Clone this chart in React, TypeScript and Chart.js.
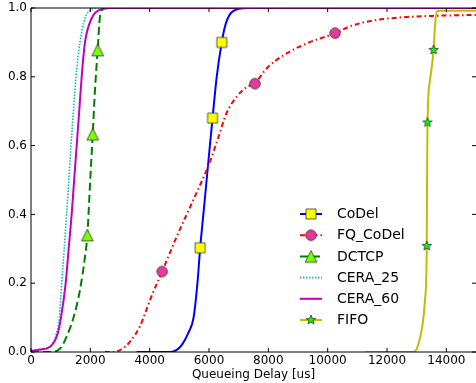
import { useEffect, useRef } from 'react';
import { Chart, registerables } from 'chart.js';

Chart.register(...registerables);

// ---------- data ----------
const seriesNames = ['CoDel', 'FQ_CoDel', 'DCTCP', 'CERA_25', 'CERA_60', 'FIFO'];
const xTicks = [0, 2000, 4000, 6000, 8000, 10000, 12000, 14000];
const yTicks = [0, 0.2, 0.4, 0.6, 0.8, 1.0];
const xTitle = 'Queueing Delay [us]';

const codelX = [3560, 4700, 4910, 5080, 5300, 5480, 5610, 5700, 5810, 5920, 6030, 6120, 6260, 6430, 6550, 6800, 7300, 15000];
const codelY = [0, 0, 0.006, 0.02, 0.055, 0.1, 0.2, 0.3, 0.4, 0.5, 0.6, 0.68, 0.8, 0.9, 0.95, 0.99, 1, 1];
const codelMarkX = [5700, 6120, 6430];
const codelMarkY = [0.303, 0.68, 0.9];

const fqX = [2490, 2800, 3050, 3337, 3674, 3900, 4100, 4420, 4910, 5470, 6010, 6300, 6590, 6930, 7270, 7550, 7950, 8500, 9290, 10250, 10700, 11200, 11800, 12500, 13500, 15000];
const fqY = [0, 0, 0.008, 0.03, 0.075, 0.125, 0.17, 0.234, 0.335, 0.442, 0.548, 0.62, 0.694, 0.742, 0.77, 0.782, 0.825, 0.862, 0.897, 0.927, 0.945, 0.958, 0.967, 0.973, 0.977, 0.98];
const fqMarkX = [4420, 7550, 10250];
const fqMarkY = [0.234, 0.78, 0.927];

const dctcpX = [0, 700, 900, 1035, 1200, 1427, 1650, 1820, 1900, 1990, 2080, 2157, 2247, 2325, 2440, 2600, 15000];
const dctcpY = [0, 0, 0.005, 0.016, 0.045, 0.098, 0.18, 0.277, 0.34, 0.49, 0.633, 0.762, 0.878, 0.975, 0.997, 1, 1];
const dctcpMarkX = [1900, 2080, 2247];
const dctcpMarkY = [0.34, 0.633, 0.878];

const cera25X = [0, 300, 600, 697, 843, 955, 1035, 1120, 1200, 1275, 1348, 1430, 1517, 1650, 1820, 1950, 2260, 15000];
const cera25Y = [0.003, 0.006, 0.012, 0.02, 0.05, 0.1, 0.2, 0.3, 0.4, 0.5, 0.6, 0.7, 0.8, 0.9, 0.97, 0.99, 1, 1];

const cera60X = [0, 300, 640, 887, 1011, 1169, 1270, 1371, 1455, 1540, 1625, 1708, 1820, 2045, 2325, 2660, 15000];
const cera60Y = [0.003, 0.007, 0.015, 0.05, 0.1, 0.2, 0.3, 0.4, 0.5, 0.6, 0.7, 0.8, 0.9, 0.97, 0.995, 1, 1];

const fifoX = [11260, 12900, 13050, 13200, 13280, 13340, 13350, 13365, 13450, 13570, 13620, 13680, 13800, 15000];
const fifoY = [0, 0, 0.02, 0.08, 0.151, 0.308, 0.5, 0.667, 0.79, 0.878, 0.95, 0.99, 0.992, 0.992];
const fifoMarkX = [13340, 13365, 13570];
const fifoMarkY = [0.308, 0.667, 0.878];

// ---------- styles ----------
const FONT = "'DejaVu Sans', 'Liberation Sans', sans-serif";

type MarkerKind = 'square' | 'circle' | 'triangle' | 'star' | 'none';

function makeMarker(kind: MarkerKind): HTMLCanvasElement | null {
  if (kind === 'none') return null;
  const c = document.createElement('canvas');
  c.width = 18;
  c.height = 18;
  const g = c.getContext('2d')!;
  g.translate(9, 9);
  g.lineWidth = 0.8;
  g.strokeStyle = '#333333';
  g.beginPath();
  if (kind === 'square') {
    g.fillStyle = '#ffff00';
    g.rect(-5, -5, 10, 10);
  } else if (kind === 'circle') {
    g.fillStyle = '#e6399b';
    g.arc(0, 0, 5.3, 0, Math.PI * 2);
  } else if (kind === 'triangle') {
    g.fillStyle = '#7cfc00';
    g.moveTo(0, -5.9);
    g.lineTo(-5.9, 5.9);
    g.lineTo(5.9, 5.9);
    g.closePath();
  } else if (kind === 'star') {
    g.fillStyle = '#00ff00';
    const R = 5;
    const r = R * 0.42;
    for (let i = 0; i < 10; i++) {
      const rad = i % 2 === 0 ? R : r;
      const ang = -Math.PI / 2 + (i * Math.PI) / 5;
      const px = Math.cos(ang) * rad;
      const py = Math.sin(ang) * rad;
      if (i === 0) g.moveTo(px, py);
      else g.lineTo(px, py);
    }
    g.closePath();
  }
  g.fill();
  g.stroke();
  return c;
}

interface SeriesStyle {
  color: string;
  width: number;
  dash: number[];
  marker: MarkerKind;
}

const styles: SeriesStyle[] = [
  { color: '#0000ff', width: 2, dash: [], marker: 'square' },
  { color: '#ff0000', width: 2, dash: [5, 3, 1.5, 3], marker: 'circle' },
  { color: '#008000', width: 2, dash: [8, 4], marker: 'triangle' },
  { color: '#00bfbf', width: 1.6, dash: [1.5, 1.5], marker: 'none' },
  { color: '#bf00bf', width: 2, dash: [], marker: 'none' },
  { color: '#bfbf00', width: 2, dash: [], marker: 'star' },
];

const lineXs = [codelX, fqX, dctcpX, cera25X, cera60X, fifoX];
const lineYs = [codelY, fqY, dctcpY, cera25Y, cera60Y, fifoY];
const markXs = [codelMarkX, fqMarkX, dctcpMarkX, null, null, fifoMarkX];
const markYs = [codelMarkY, fqMarkY, dctcpMarkY, null, null, fifoMarkY];

// plot-area box inside the 476x383 canvas
const AREA = { left: 31, top: 8, right: 476, bottom: 352 };

function zip(xs: number[], ys: number[]) {
  return xs.map((x, i) => ({ x, y: ys[i] }));
}

export default function App() {
  const ref = useRef<HTMLCanvasElement | null>(null);

  useEffect(() => {
    document.body.style.margin = '0';
    const canvas = ref.current;
    if (!canvas) return;

    const markers = styles.map((s) => makeMarker(s.marker));

    const datasets: any[] = [];
    seriesNames.forEach((name, k) => {
      const s = styles[k];
      datasets.push({
        label: name,
        data: zip(lineXs[k], lineYs[k]),
        borderColor: s.color,
        backgroundColor: s.color,
        borderWidth: s.width,
        borderDash: s.dash,
        pointRadius: 0,
        fill: false,
        cubicInterpolationMode: 'monotone',
        order: 100 - 2 * k,
      });
      const mx = markXs[k];
      const my = markYs[k];
      if (mx && my && markers[k]) {
        datasets.push({
          label: name + ' markers',
          data: zip(mx, my),
          showLine: false,
          pointStyle: markers[k],
          pointRadius: 5,
          borderWidth: 0,
          order: 100 - 2 * k - 1,
        });
      }
    });

    const deco = {
      id: 'mplDeco',
      afterLayout(chart: any) {
        const a = chart.chartArea;
        a.left = AREA.left;
        a.top = AREA.top;
        a.right = AREA.right;
        a.bottom = AREA.bottom;
        a.width = AREA.right - AREA.left;
        a.height = AREA.bottom - AREA.top;
        const x = chart.scales.x;
        x.left = AREA.left;
        x.right = AREA.right;
        x.width = AREA.right - AREA.left;
        x.top = AREA.bottom;
        x.bottom = chart.height;
        x.height = chart.height - AREA.bottom;
        x.configure();
        const y = chart.scales.y;
        y.left = 0;
        y.right = AREA.left;
        y.width = AREA.left;
        y.top = AREA.top;
        y.bottom = AREA.bottom;
        y.height = AREA.bottom - AREA.top;
        y.configure();
      },
      afterDraw(chart: any) {
        const { ctx, chartArea: a, scales } = chart;
        ctx.save();
        ctx.setLineDash([]);
        ctx.strokeStyle = '#000000';
        ctx.lineWidth = 1;
        ctx.beginPath();
        const tl = 4;
        xTicks.forEach((v) => {
          const px = scales.x.getPixelForValue(v);
          ctx.moveTo(px, a.bottom);
          ctx.lineTo(px, a.bottom - tl);
          ctx.moveTo(px, a.top);
          ctx.lineTo(px, a.top + tl);
        });
        yTicks.forEach((v) => {
          const py = scales.y.getPixelForValue(v);
          ctx.moveTo(a.left, py);
          ctx.lineTo(a.left + tl, py);
          ctx.moveTo(a.right, py);
          ctx.lineTo(a.right - tl, py);
        });
        // frame: left, top, bottom (right edge lies at the canvas border)
        ctx.moveTo(a.left, a.top);
        ctx.lineTo(a.right, a.top);
        ctx.moveTo(a.left, a.top);
        ctx.lineTo(a.left, a.bottom);
        ctx.moveTo(a.left, a.bottom);
        ctx.lineTo(a.right, a.bottom);
        ctx.stroke();

        // legend (no frame), lower right inside plot
        const lx0 = 300;
        const lx1 = 322;
        const lxm = 311;
        const tx = 337;
        const y0 = 214;
        const dy = 21.2;
        seriesNames.forEach((name, k) => {
          const s = styles[k];
          const y = y0 + k * dy;
          ctx.setLineDash(s.dash);
          ctx.strokeStyle = s.color;
          ctx.lineWidth = s.width;
          ctx.beginPath();
          ctx.moveTo(lx0, y);
          ctx.lineTo(lx1, y);
          ctx.stroke();
          ctx.setLineDash([]);
          const m = markers[k];
          if (m) ctx.drawImage(m, lxm - 9, y - 9);
          ctx.fillStyle = '#000000';
          ctx.font = `14px ${FONT}`;
          ctx.textAlign = 'left';
          ctx.textBaseline = 'middle';
          ctx.fillText(name, tx, y + 0.5);
        });
        ctx.restore();
      },
    };

    const chart = new Chart(canvas, {
      type: 'line',
      data: { datasets },
      options: {
        animation: false,
        responsive: false,
        devicePixelRatio: 1,
        events: [],
        layout: { padding: 0 },
        plugins: {
          legend: { display: false },
          tooltip: { enabled: false },
        },
        scales: {
          x: {
            type: 'linear',
            min: 0,
            max: 15000,
            grid: { display: false, drawTicks: false },
            border: { display: false },
            afterBuildTicks: (scale: any) => {
              scale.ticks = xTicks.map((v) => ({ value: v }));
            },
            ticks: {
              autoSkip: false,
              maxRotation: 0,
              minRotation: 0,
              padding: 2,
              color: '#000000',
              font: { family: FONT, size: 12 },
              callback: (v: any) => String(v),
            },
            title: {
              display: true,
              text: xTitle,
              color: '#000000',
              font: { family: FONT, size: 12 },
              padding: { top: 0, bottom: 0.5 },
            },
          },
          y: {
            type: 'linear',
            min: 0,
            max: 1,
            grid: { display: false, drawTicks: false },
            border: { display: false },
            afterBuildTicks: (scale: any) => {
              scale.ticks = yTicks.map((v) => ({ value: v }));
            },
            ticks: {
              autoSkip: false,
              padding: 4,
              color: '#000000',
              font: { family: FONT, size: 12 },
              callback: (v: any) => Number(v).toFixed(1),
            },
          },
        },
      },
      plugins: [deco],
    });

    return () => {
      chart.destroy();
    };
  }, []);

  return <canvas ref={ref} width={476} height={383} style={{ display: 'block' }} />;
}
